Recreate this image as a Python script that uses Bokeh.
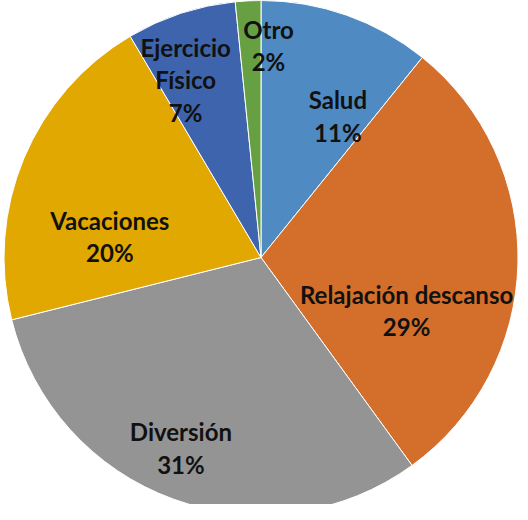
import math
from bokeh.plotting import figure
from bokeh.models import Range1d, ColumnDataSource
from bokeh.core.properties import value
from bokeh.embed import file_html
from bokeh.resources import INLINE

categories = ["Salud", "Relajación descanso", "Diversión", "Vacaciones", "Ejercicio Físico", "Otro"]
values = [10.8, 29.2, 31.1, 20.4, 6.9, 1.6]
colors = ["#4F8AC3", "#D46F2B", "#949494", "#E0A800", "#3D64AD", "#67A043"]
label_lines = [["Salud"], ["Relajación descanso"], ["Diversión"], ["Vacaciones"], ["Ejercicio", "Físico"], ["Otro"]]
# label placement (style): radial fraction and angular nudge in degrees (clockwise)
label_frac = [0.626, 0.603, 0.805, 0.594, 0.751, 0.825]
label_nudge = [9.1, 18.6, 2.8, -14.7, -4.8, 4.9]

W, H = 520, 504
cx, cy, R = 260.5, 247, 257
LINE = 32.5

p = figure(width=W, height=H, output_backend="svg", toolbar_location=None,
           x_range=Range1d(0, W), y_range=Range1d(0, H), min_border=0)
p.axis.visible = False
p.grid.visible = False
p.outline_line_color = None
p.background_fill_color = "white"
p.border_fill_color = "white"

total = sum(values)
starts, ends, mids = [], [], []
cum = 0.0
for v in values:
    a0 = cum / total * 360.0
    cum += v
    a1 = cum / total * 360.0
    starts.append(math.radians(90 - a0))
    ends.append(math.radians(90 - a1))
    mids.append((a0 + a1) / 2)

src = ColumnDataSource(dict(start=starts, end=ends, color=colors))
p.wedge(x=cx, y=cy, radius=R, start_angle="start", end_angle="end", direction="clock",
        fill_color="color", line_color="white", line_width=1, source=src)

tx, ty, tt = [], [], []
for i, v in enumerate(values):
    lines = label_lines[i] + [f"{round(v / total * 100)}%"]
    ang = math.radians(mids[i] + label_nudge[i])
    r = R * label_frac[i]
    lx = cx + r * math.sin(ang)
    ly = cy + r * math.cos(ang)
    n = len(lines)
    for k, t in enumerate(lines):
        tx.append(lx)
        ty.append(ly + ((n - 1) / 2 - k) * LINE)
        tt.append(t)

p.text(x=tx, y=ty, text=tt, text_align="center", text_baseline="middle",
       text_font=value("Lato"), text_font_style="bold", text_font_size="24px",
       text_color="#111111")

open("out.html", "w").write(file_html(p, INLINE))
